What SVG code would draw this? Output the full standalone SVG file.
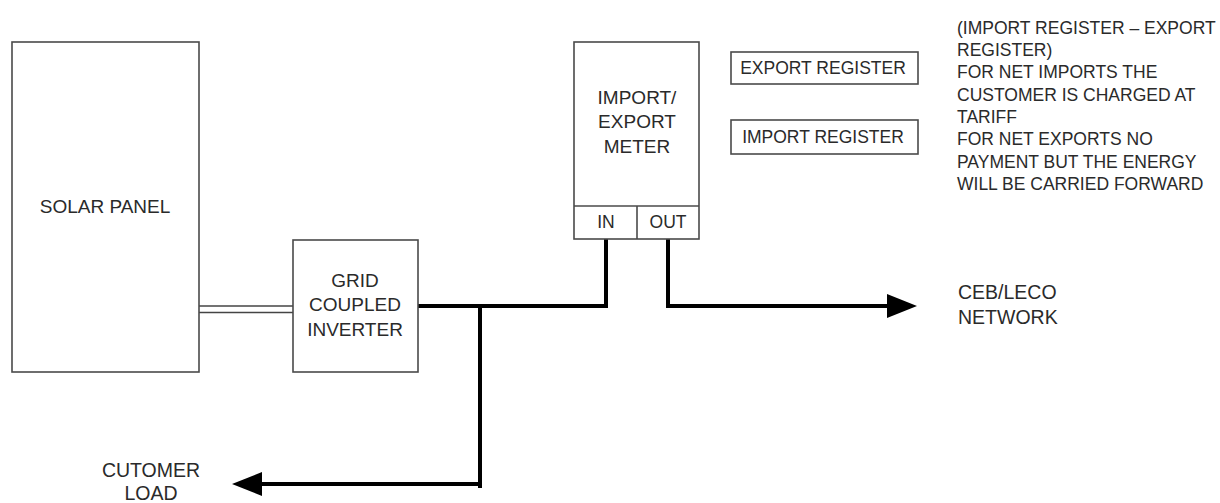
<svg xmlns="http://www.w3.org/2000/svg" width="1220" height="503" viewBox="0 0 1220 503">
<style>
.box{fill:#fff;stroke:#4a4a4a;stroke-width:1.6}
.t{font-family:"Liberation Sans",Arial,sans-serif;font-size:19px;fill:#2a2a2a;text-anchor:middle}
.s{font-family:"Liberation Sans",Arial,sans-serif;font-size:17.5px;fill:#2a2a2a}
.l{font-family:"Liberation Sans",Arial,sans-serif;font-size:19.5px;fill:#2a2a2a}
.w{fill:none;stroke:#000;stroke-width:4;stroke-linejoin:miter}
.d{fill:none;stroke:#444;stroke-width:1.5}
</style>
<defs>
<marker id="ah" markerUnits="userSpaceOnUse" markerWidth="30" markerHeight="24" refX="2" refY="12" orient="auto" overflow="visible">
<path d="M0,0 L30,12 L0,24 Z" fill="#000"/>
</marker>
</defs>
<rect width="1220" height="503" fill="#fff"/>
<g id="connectors">
<line class="d" x1="199" y1="306" x2="293" y2="306"/>
<line class="d" x1="199" y1="312.5" x2="293" y2="312.5"/>
<polyline class="w" points="418,306 606,306 606,239"/>
<polyline class="w" points="668,239 668,306 889,306" marker-end="url(#ah)"/>
<polyline class="w" points="480,306 480,488"/>
<polyline class="w" points="480,484 260,484" marker-end="url(#ah)"/>
</g>
<g id="solar-panel">
<rect class="box" x="12" y="42" width="187" height="330"/>
<text class="t" x="105" y="213">SOLAR PANEL</text>
</g>
<g id="inverter">
<rect class="box" x="293" y="240" width="125" height="132"/>
<text class="t" x="355" y="287">GRID</text>
<text class="t" x="355" y="311">COUPLED</text>
<text class="t" x="355" y="336">INVERTER</text>
</g>
<g id="meter">
<rect class="box" x="574" y="42" width="125" height="197"/>
<line class="box" x1="574" y1="206" x2="699" y2="206"/>
<line class="box" x1="637" y1="206" x2="637" y2="239"/>
<text class="t" x="637" y="104">IMPORT/</text>
<text class="t" x="637" y="128">EXPORT</text>
<text class="t" x="637" y="153">METER</text>
<text class="s" x="606" y="228" text-anchor="middle">IN</text>
<text class="s" x="668" y="228" text-anchor="middle">OUT</text>
</g>
<g id="export-register">
<rect class="box" x="731" y="52" width="187" height="32"/>
<text class="s" x="823" y="74" text-anchor="middle">EXPORT REGISTER</text>
</g>
<g id="import-register">
<rect class="box" x="731" y="120" width="187" height="34"/>
<text class="s" x="823" y="143" text-anchor="middle">IMPORT REGISTER</text>
</g>
<g id="note">
<text class="s" x="957" y="34">(IMPORT REGISTER – EXPORT</text>
<text class="s" x="957" y="56">REGISTER)</text>
<text class="s" x="957" y="78">FOR NET IMPORTS THE</text>
<text class="s" x="957" y="101">CUSTOMER IS CHARGED AT</text>
<text class="s" x="957" y="123">TARIFF</text>
<text class="s" x="957" y="145">FOR NET EXPORTS NO</text>
<text class="s" x="957" y="168">PAYMENT BUT THE ENERGY</text>
<text class="s" x="957" y="190">WILL BE CARRIED FORWARD</text>
</g>
<g id="network">
<text class="l" x="958" y="299">CEB/LECO</text>
<text class="l" x="958" y="324">NETWORK</text>
</g>
<g id="customer-load">
<text class="l" x="151" y="477" text-anchor="middle">CUTOMER</text>
<text class="l" x="151" y="500" text-anchor="middle">LOAD</text>
</g>
</svg>
